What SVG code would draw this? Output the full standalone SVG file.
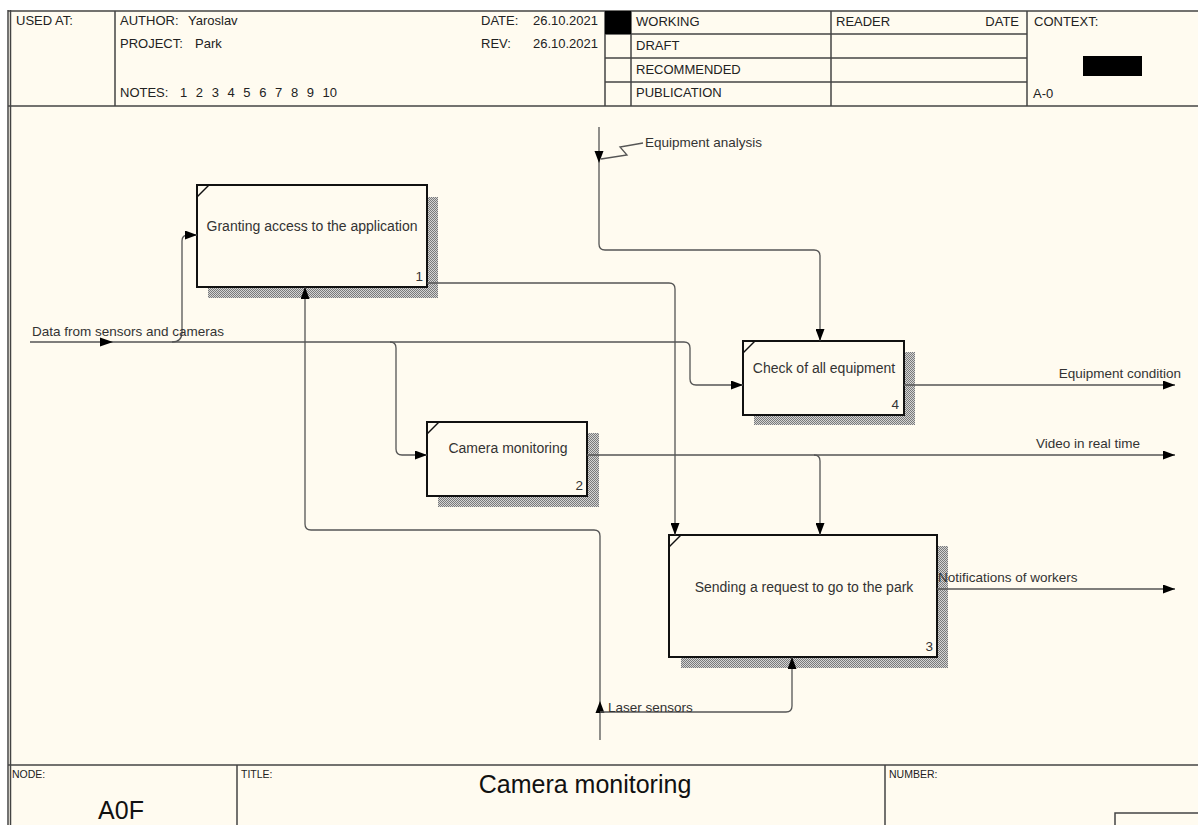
<svg xmlns="http://www.w3.org/2000/svg" width="1198" height="825" viewBox="0 0 1198 825">
<defs>
<pattern id="hatch" width="2" height="2" patternUnits="userSpaceOnUse">
<rect width="2" height="2" fill="#d4d4d4"/>
<rect width="1" height="1" fill="#7a7a7a"/>
<rect x="1" y="1" width="1" height="1" fill="#7a7a7a"/>
</pattern>
<marker id="arr" markerUnits="userSpaceOnUse" markerWidth="12" markerHeight="9" refX="12" refY="4.5" orient="auto">
<path d="M0,0 L12,4.5 L0,9 z" fill="#000"/>
</marker>
</defs>
<style>
.frame{fill:none;stroke:#444;stroke-width:1.5}
.hd{font-family:"Liberation Sans",Arial,sans-serif;font-size:13px;fill:#222}
.sm{font-family:"Liberation Sans",Arial,sans-serif;font-size:10.5px;fill:#222}
.big{font-family:"Liberation Sans",Arial,sans-serif;font-size:25px;fill:#111}
.box{fill:#fffbf0;stroke:#111;stroke-width:2}
.shadow{fill:url(#hatch)}
.btxt{font-family:"Liberation Sans",Arial,sans-serif;font-size:14px;fill:#333;text-anchor:middle}
.num{font-family:"Liberation Sans",Arial,sans-serif;font-size:13.5px;fill:#333;text-anchor:end}
.conn{fill:none;stroke:#555;stroke-width:1.3}
.lbl{font-family:"Liberation Sans",Arial,sans-serif;font-size:13.5px;fill:#333}
</style>
<rect width="1198" height="825" fill="#ffffff"/>
<rect x="8" y="10" width="1190" height="815" fill="#fffbf0"/>

<g id="header">
<line class="frame" x1="8" y1="11" x2="1198" y2="11"/>
<line class="frame" x1="8" y1="10" x2="8" y2="825" stroke-width="2"/>
<line class="frame" x1="10.5" y1="10" x2="10.5" y2="825"/>
<line class="frame" x1="8" y1="106" x2="1198" y2="106"/>
<line class="frame" x1="115" y1="11" x2="115" y2="106"/>
<line class="frame" x1="605" y1="11" x2="605" y2="106"/>
<line class="frame" x1="631" y1="11" x2="631" y2="106"/>
<line class="frame" x1="831" y1="11" x2="831" y2="106"/>
<line class="frame" x1="1027" y1="11" x2="1027" y2="106"/>
<line class="frame" x1="605" y1="34" x2="1027" y2="34"/>
<line class="frame" x1="605" y1="58" x2="1027" y2="58"/>
<line class="frame" x1="605" y1="82" x2="1027" y2="82"/>
<rect x="605" y="11" width="26" height="23" fill="#000"/>
<rect x="1083" y="56" width="59" height="20" fill="#000"/>
<text class="hd" x="16" y="25">USED AT:</text>
<text class="hd" x="120" y="25">AUTHOR:</text>
<text class="hd" x="188" y="25">Yaroslav</text>
<text class="hd" x="120" y="48">PROJECT:</text>
<text class="hd" x="195" y="48">Park</text>
<text class="hd" x="120" y="97">NOTES:</text>
<text class="hd" x="180" y="97" word-spacing="5">1 2 3 4 5 6 7 8 9 10</text>
<text class="hd" x="481" y="25">DATE:</text>
<text class="hd" x="598" y="25" text-anchor="end">26.10.2021</text>
<text class="hd" x="481" y="48">REV:</text>
<text class="hd" x="598" y="48" text-anchor="end">26.10.2021</text>
<text class="hd" x="636" y="26">WORKING</text>
<text class="hd" x="636" y="50">DRAFT</text>
<text class="hd" x="636" y="74">RECOMMENDED</text>
<text class="hd" x="636" y="97">PUBLICATION</text>
<text class="hd" x="836" y="26">READER</text>
<text class="hd" x="1019" y="26" text-anchor="end">DATE</text>
<text class="hd" x="1034" y="26">CONTEXT:</text>
<text class="hd" x="1033" y="98">A-0</text>
</g>

<g id="footer">
<line class="frame" x1="8" y1="765" x2="1198" y2="765"/>
<line class="frame" x1="237" y1="765" x2="237" y2="825"/>
<line class="frame" x1="885" y1="765" x2="885" y2="825"/>
<rect class="frame" x="1115" y="813" width="90" height="20"/>
<text class="sm" x="12" y="778">NODE:</text>
<text class="sm" x="241" y="778">TITLE:</text>
<text class="sm" x="889" y="778">NUMBER:</text>
<text class="big" x="585" y="793" text-anchor="middle">Camera monitoring</text>
<text class="big" x="121" y="819" text-anchor="middle" font-size="23">A0F</text>
</g>

<g id="node1">
<rect class="shadow" x="427" y="197" width="11" height="101"/>
<rect class="shadow" x="208" y="287" width="230" height="11"/>
<rect class="box" x="197" y="185" width="230" height="102"/>
<line x1="197" y1="197" x2="209" y2="185" stroke="#111" stroke-width="1.5"/>
<text class="btxt" x="312" y="231">Granting access to the application</text>
<text class="num" x="423" y="281">1</text>
</g>

<g id="node2">
<rect class="shadow" x="587" y="433" width="12" height="74"/>
<rect class="shadow" x="438" y="496" width="161" height="11"/>
<rect class="box" x="427" y="422" width="160" height="74"/>
<line x1="427" y1="434" x2="439" y2="422" stroke="#111" stroke-width="1.5"/>
<text class="btxt" x="508" y="453">Camera monitoring</text>
<text class="num" x="583" y="490">2</text>
</g>

<g id="node3">
<rect class="shadow" x="937" y="546" width="11" height="122"/>
<rect class="shadow" x="681" y="657" width="267" height="11"/>
<rect class="box" x="669" y="535" width="268" height="122"/>
<line x1="669" y1="547" x2="681" y2="535" stroke="#111" stroke-width="1.5"/>
<text class="btxt" x="804" y="592">Sending a request to go to the park</text>
<text class="num" x="933" y="651">3</text>
</g>

<g id="node4">
<rect class="shadow" x="904" y="352" width="11" height="73"/>
<rect class="shadow" x="754" y="415" width="161" height="10"/>
<rect class="box" x="743" y="341" width="161" height="74"/>
<line x1="743" y1="353" x2="755" y2="341" stroke="#111" stroke-width="1.5"/>
<text class="btxt" x="824" y="373">Check of all equipment</text>
<text class="num" x="899" y="409">4</text>
</g>

<g id="connectors">
<path class="conn" d="M30,342 H684 Q690,342 690,348 V379 Q690,385 696,385 H743" marker-end="url(#arr)"/>
<polygon points="100,337.5 113,342 100,346.5" fill="#000"/>
<path class="conn" d="M172,342 Q182,342 182,332 V241 Q182,235 188,235 H197" marker-end="url(#arr)"/>
<path class="conn" d="M390,342 Q396,342 396,348 V449 Q396,455 402,455 H427" marker-end="url(#arr)"/>
<path class="conn" d="M599,127 V244 Q599,250 605,250 H814 Q820,250 820,256 V341" marker-end="url(#arr)"/>
<polygon points="594.5,151 603.5,151 599,163" fill="#000"/>
<polyline class="conn" points="643,143 620,147 627,155 601,159"/>
<path class="conn" d="M427,283 H669 Q675,283 675,289 V535" marker-end="url(#arr)"/>
<path class="conn" d="M904,385 H1175" marker-end="url(#arr)"/>
<path class="conn" d="M587,455 H1175" marker-end="url(#arr)"/>
<path class="conn" d="M814,455 Q820,455 820,461 V535" marker-end="url(#arr)"/>
<path class="conn" d="M937,589 H1175" marker-end="url(#arr)"/>
<path class="conn" d="M600,740 V536 Q600,530 594,530 H311 Q305,530 305,524 V287" marker-end="url(#arr)"/>
<polygon points="595.5,713 604.5,713 600,701" fill="#000"/>
<path class="conn" d="M600,712 H786 Q792,712 792,706 V657" marker-end="url(#arr)"/>
<text class="lbl" x="32" y="336">Data from sensors and cameras</text>
<text class="lbl" x="645" y="147">Equipment analysis</text>
<text class="lbl" x="1181" y="378" text-anchor="end">Equipment condition</text>
<text class="lbl" x="1140" y="448" text-anchor="end">Video in real time</text>
<text class="lbl" x="938" y="582">Notifications of workers</text>
<text class="lbl" x="608" y="712">Laser sensors</text>
</g>
</svg>
